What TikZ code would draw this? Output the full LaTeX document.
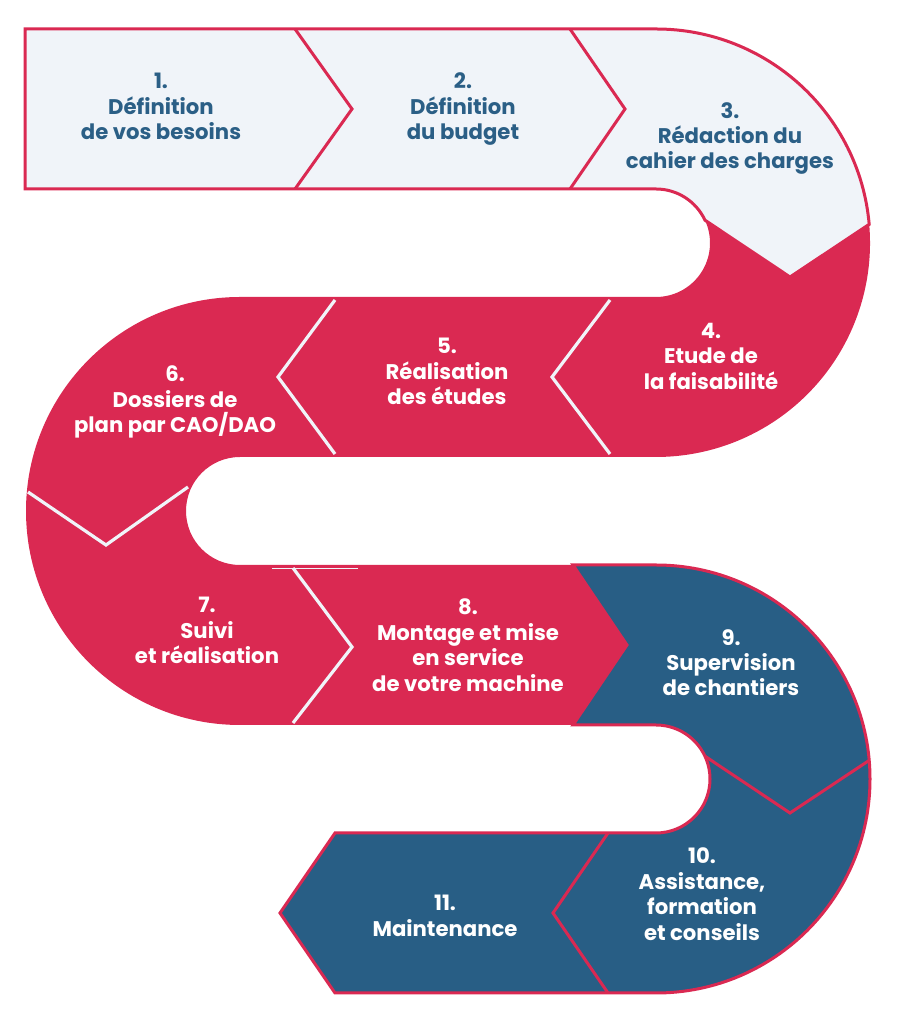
\documentclass[tikz,border=0pt]{standalone}
\usepackage{fontspec}
\setmainfont{Poppins}
\definecolor{lightf}{RGB}{240,244,249}
\definecolor{redc}{RGB}{218,41,82}
\definecolor{bluec}{RGB}{40,94,133}
\definecolor{bluet}{RGB}{43,95,134}
\begin{document}
\begin{tikzpicture}[x=1pt,y=1pt,
  lab/.style={align=center, inner sep=0pt, anchor=north, font=\bfseries\fontsize{21.2}{25.4}\selectfont},
  darklab/.style={lab, text=bluet},
  whitelab/.style={lab, text=white},
  reddiv/.style={draw=redc, line width=3pt, line join=miter},
  whitediv/.style={draw=lightf, line width=3.2pt, line join=miter},
  outlined/.style={draw=redc, line width=3pt}]
\useasboundingbox (0,0) rectangle (896,1024);

% red band (steps 4 to 8)
\fill[redc] (790,747) -- (869.19,799.65) arc[start angle=5,end angle=-90,radius=214]
  -- (240,567) arc[start angle=90,end angle=270,radius=54]
  -- (573,459) -- (627,379) -- (573,299)
  -- (240,299) arc[start angle=270,end angle=90,radius=214]
  -- (656,727) arc[start angle=-90,end angle=25,radius=54] -- cycle;

% light band (steps 1 to 3)
\filldraw[fill=lightf, outlined] (25,835) -- (25,995) -- (656,995)
  arc[start angle=90,end angle=5,radius=214] -- (790,747) -- (704.94,803.82)
  arc[start angle=25,end angle=90,radius=54] -- cycle;

% blue band (steps 9 to 11)
\filldraw[fill=bluec, outlined] (573,459) -- (656,459)
  arc[start angle=90,end angle=-90,radius=214]
  -- (335,31) -- (280,111) -- (335,191) -- (656,191)
  arc[start angle=-90,end angle=90,radius=54]
  -- (573,299) -- (627,379) -- cycle;

% dividers
\coordinate (d1a) at (295,995); \coordinate (d1b) at (352,915); \coordinate (d1c) at (295,835);
\coordinate (d2a) at (570,995); \coordinate (d2b) at (625,915); \coordinate (d2c) at (570,835);
\draw[reddiv] (d1a) -- (d1b) -- (d1c);
\draw[reddiv] (d2a) -- (d2b) -- (d2c);

\coordinate (w1a) at (610,724); \coordinate (w1b) at (552,647); \coordinate (w1c) at (610,570);
\coordinate (w2a) at (335,724); \coordinate (w2b) at (278,647); \coordinate (w2c) at (335,570);
\coordinate (w3a) at (28,532); \coordinate (w3b) at (106,479); \coordinate (w3c) at (188,537);
\coordinate (w4a) at (293,456); \coordinate (w4b) at (352,377); \coordinate (w4c) at (293,301);
\coordinate (f1) at (272,456); \coordinate (f2) at (358,456);
\draw[whitediv] (w1a) -- (w1b) -- (w1c);
\draw[whitediv] (w2a) -- (w2b) -- (w2c);
\draw[whitediv] (w3a) -- (w3b) -- (w3c);
\draw[whitediv] (w4a) -- (w4b) -- (w4c);
\draw[draw=lightf, line width=0.8pt] (f1) -- (f2);

\coordinate (b1a) at (704.94,267.82); \coordinate (b1b) at (790,211); \coordinate (b1c) at (869.19,263.65);
\coordinate (b2a) at (608,191); \coordinate (b2b) at (553,111); \coordinate (b2c) at (608,31);
\draw[reddiv] (b1a) -- (b1b) -- (b1c);
\draw[reddiv] (b2a) -- (b2b) -- (b2c);

% labels
\node[darklab] (t1) at (161,951) {1.\\Définition\\de vos besoins};
\node[darklab] (t2) at (463,951) {2.\\Définition\\du budget};
\node[darklab] (t3) at (730,922) {3.\\Rédaction du\\cahier des charges};
\node[whitelab] (t4) at (711,701) {4.\\Etude de\\la faisabilité};
\node[whitelab] (t5) at (447,686) {5.\\Réalisation\\des études};
\node[whitelab] (t6) at (175,658) {6.\\Dossiers de\\plan par CAO/DAO};
\node[whitelab] (t7) at (207,427) {7.\\Suivi\\et réalisation};
\node[whitelab] (t8) at (468,425) {8.\\Montage et mise\\en service\\de votre machine};
\node[whitelab] (t9) at (731,395) {9.\\Supervision\\de chantiers};
\node[whitelab] (t10) at (702,176) {10.\\Assistance,\\formation\\et conseils};
\node[whitelab] (t11) at (445,129) {11.\\Maintenance};
\end{tikzpicture}
\end{document}
